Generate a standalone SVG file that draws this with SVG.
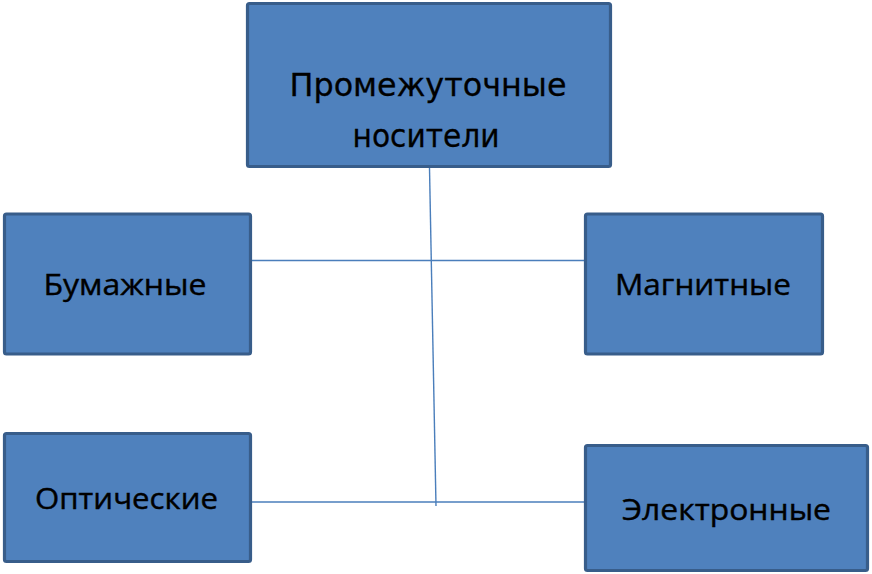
<svg xmlns="http://www.w3.org/2000/svg" width="872" height="574" viewBox="0 0 872 574">
<style>
.box{fill:#4f81bd;stroke:#385d8a;stroke-width:3.2;}
.t1{font-family:"DejaVu Sans","Liberation Sans",sans-serif;font-size:32px;fill:#000;stroke:#000;stroke-width:0.3;}
.t2{font-family:"Open Sans","Noto Sans",sans-serif;font-size:29.5px;fill:#000;stroke:#000;stroke-width:0.4;}
.c{stroke:#4a7ebb;stroke-width:1.4;fill:none;}
</style>
<rect width="872" height="574" fill="#fff"/>
<g id="connectors">
<line class="c" x1="429.5" y1="168" x2="436" y2="506"/>
<line class="c" x1="251" y1="260.5" x2="584" y2="260.5"/>
<line class="c" x1="251" y1="502" x2="584" y2="502"/>
</g>
<g id="node-top">
<rect class="box" x="247.5" y="3.5" width="363" height="163" rx="2"/>
<text class="t1" x="289.5" y="96" textLength="277" lengthAdjust="spacingAndGlyphs">Промежуточные</text>
<text class="t1" x="352.5" y="147" textLength="147" lengthAdjust="spacingAndGlyphs">носители</text>
</g>
<g id="node-paper">
<rect class="box" x="4.5" y="214" width="246" height="140" rx="2"/>
<text class="t2" x="43.5" y="295" textLength="163" lengthAdjust="spacingAndGlyphs">Бумажные</text>
</g>
<g id="node-magnetic">
<rect class="box" x="585.5" y="214" width="237" height="140" rx="2"/>
<text class="t2" x="615" y="295" textLength="176" lengthAdjust="spacingAndGlyphs">Магнитные</text>
</g>
<g id="node-optical">
<rect class="box" x="4.5" y="433.5" width="246" height="128" rx="2"/>
<text class="t2" x="35" y="509" textLength="183" lengthAdjust="spacingAndGlyphs">Оптические</text>
</g>
<g id="node-electronic">
<rect class="box" x="585.5" y="445.5" width="282" height="125" rx="2"/>
<text class="t2" x="622" y="520" textLength="209" lengthAdjust="spacingAndGlyphs">Электронные</text>
</g>
</svg>
